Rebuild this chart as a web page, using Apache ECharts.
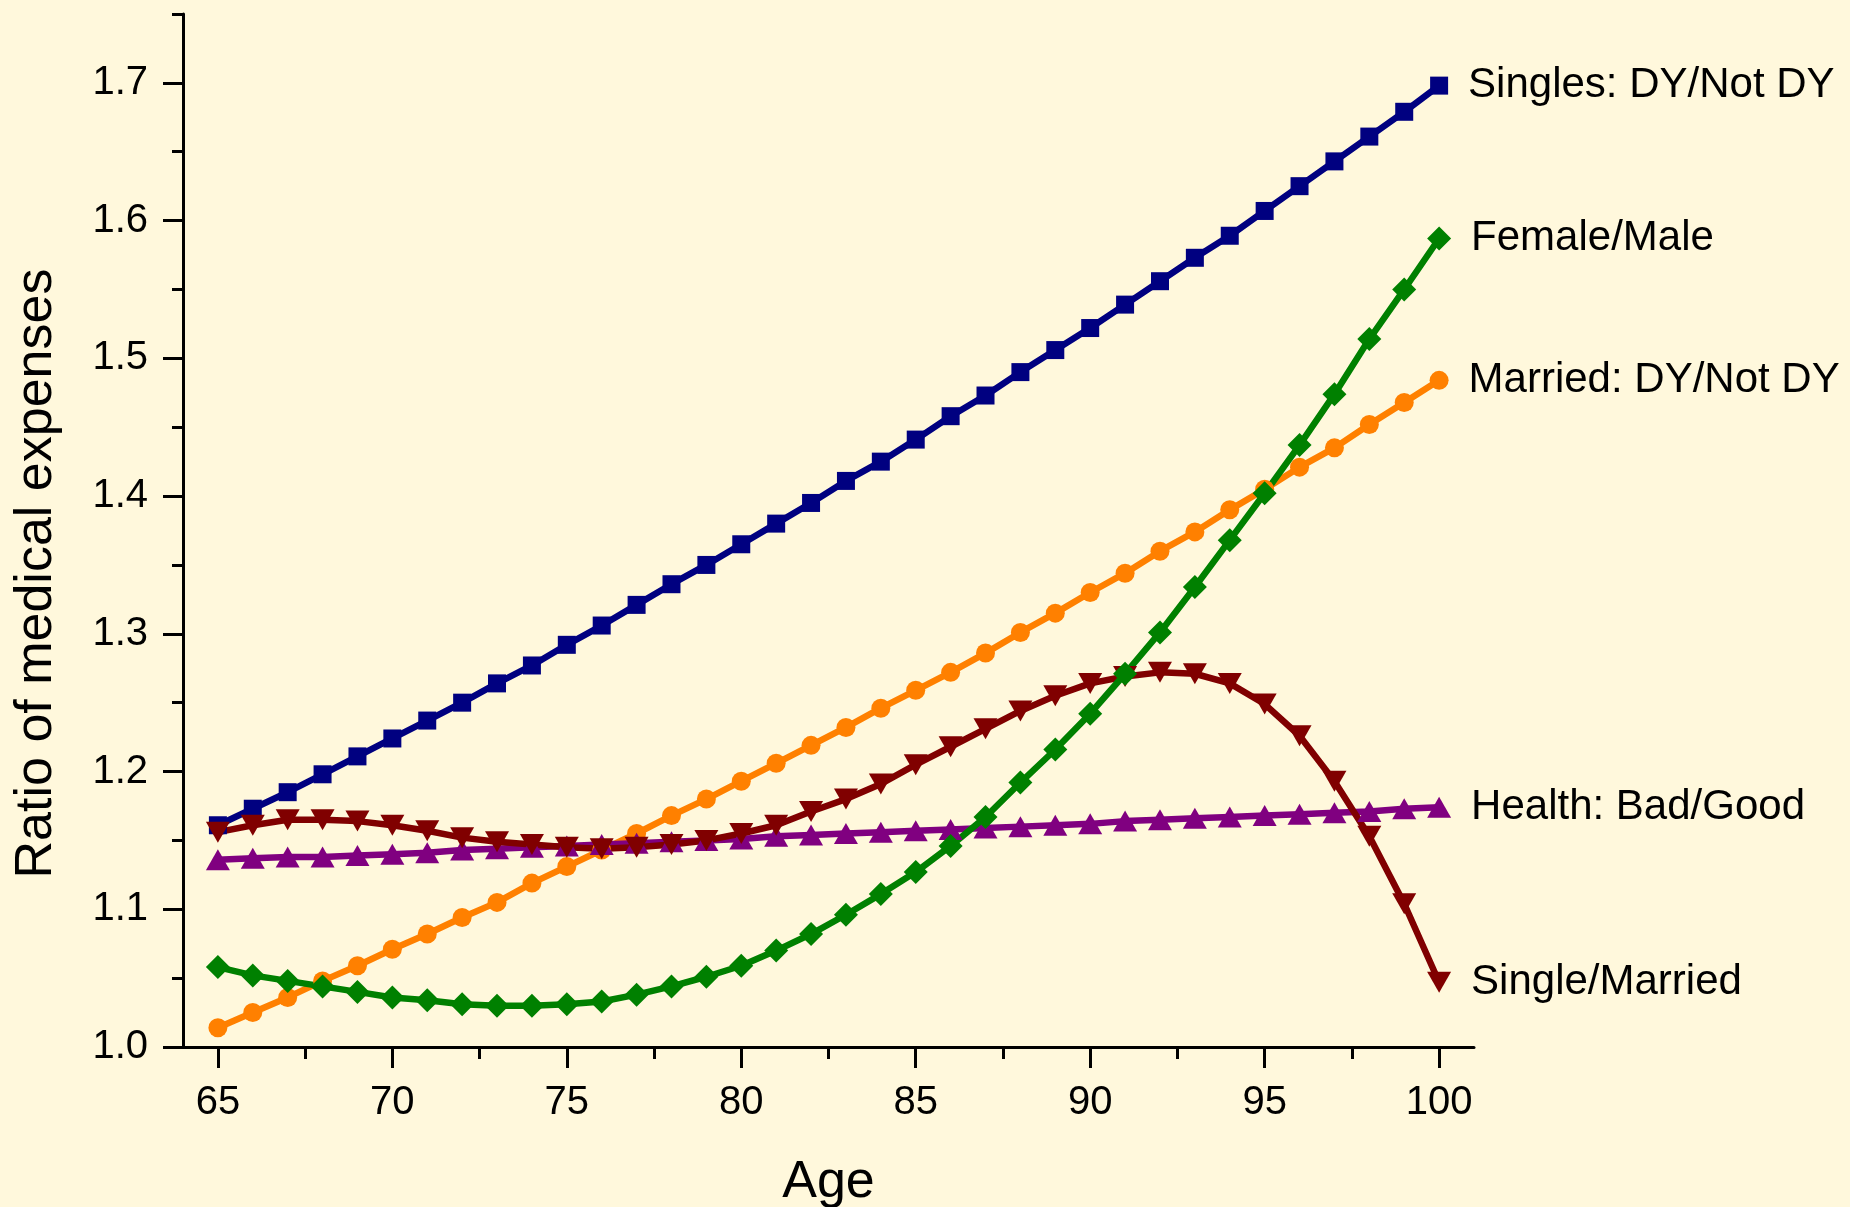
<!DOCTYPE html>
<html>
<head>
<meta charset="utf-8">
<title>Ratio of medical expenses by age</title>
<script src="https://cdn.jsdelivr.net/npm/echarts@6/dist/echarts.min.js"></script>
<style>
  html, body { margin: 0; padding: 0; background: #FFF8DC; }
  #chart { width: 1850px; height: 1207px; }
</style>
</head>
<body>
<div id="chart"></div>
<script>
// Ages on the horizontal axis
const ages = [65, 66, 67, 68, 69, 70, 71, 72, 73, 74, 75, 76, 77, 78, 79, 80, 81, 82,
              83, 84, 85, 86, 87, 88, 89, 90, 91, 92, 93, 94, 95, 96, 97, 98, 99, 100];

// Singles: DY / Not DY
const singlesDY = [1.161, 1.173, 1.185, 1.198, 1.211, 1.224, 1.237, 1.250, 1.264, 1.277,
                   1.292, 1.306, 1.321, 1.336, 1.350, 1.365, 1.380, 1.395, 1.411, 1.425,
                   1.441, 1.458, 1.473, 1.490, 1.506, 1.522, 1.539, 1.556, 1.573, 1.589,
                   1.607, 1.625, 1.643, 1.661, 1.679, 1.698];

// Married: DY / Not DY
const marriedDY = [1.014, 1.025, 1.036, 1.048, 1.059, 1.071, 1.082, 1.094, 1.105, 1.119,
                   1.131, 1.143, 1.155, 1.168, 1.180, 1.193, 1.206, 1.219, 1.232, 1.246,
                   1.259, 1.272, 1.286, 1.301, 1.315, 1.330, 1.344, 1.360, 1.374, 1.390,
                   1.405, 1.421, 1.435, 1.452, 1.468, 1.484];

// Health: Bad / Good
const healthBadGood = [1.136, 1.137, 1.138, 1.138, 1.139, 1.140, 1.141, 1.143, 1.144, 1.145,
                       1.146, 1.147, 1.148, 1.149, 1.150, 1.151, 1.153, 1.154, 1.155, 1.156,
                       1.157, 1.158, 1.159, 1.160, 1.161, 1.162, 1.164, 1.165, 1.166, 1.167,
                       1.168, 1.169, 1.170, 1.171, 1.173, 1.174];

// Single / Married
const singleMarried = [1.156, 1.161, 1.165, 1.165, 1.164, 1.161, 1.157, 1.152, 1.149, 1.147,
                       1.145, 1.144, 1.145, 1.147, 1.150, 1.155, 1.161, 1.171, 1.180, 1.191,
                       1.205, 1.218, 1.231, 1.244, 1.255, 1.264, 1.269, 1.272, 1.271, 1.264,
                       1.249, 1.226, 1.193, 1.153, 1.104, 1.047];

// Female / Male
const femaleMale = [1.058, 1.052, 1.048, 1.044, 1.040, 1.036, 1.034, 1.031, 1.030, 1.030,
                    1.031, 1.033, 1.038, 1.044, 1.051, 1.059, 1.070, 1.082, 1.096, 1.111,
                    1.127, 1.146, 1.167, 1.192, 1.216, 1.242, 1.271, 1.301, 1.334, 1.368,
                    1.402, 1.437, 1.474, 1.514, 1.550, 1.587];

// Axis tick positions and labels
const xMajorTicks = [65, 70, 75, 80, 85, 90, 95, 100];
const xMinorTicks = [67.5, 72.5, 77.5, 82.5, 87.5, 92.5, 97.5];
const yMajorTicks = [1.0, 1.1, 1.2, 1.3, 1.4, 1.5, 1.6, 1.7];
const yMinorTicks = [1.05, 1.15, 1.25, 1.35, 1.45, 1.55, 1.65, 1.75];

const FONT = '"Liberation Sans", Arial, Helvetica, sans-serif';
const INK = '#000000';

function pairs(values) {
  return ages.map((a, i) => [a, values[i]]);
}

// One line series; its name is written next to the last point
function lineSeries(name, values, color, symbol, size, rotate) {
  const data = pairs(values).map((p, i, arr) => {
    if (i !== arr.length - 1) return p;
    return {
      value: p,
      label: {
        show: true,
        position: 'right',
        distance: 20,
        formatter: name,
        color: INK,
        fontFamily: FONT,
        fontSize: 42
      }
    };
  });
  return {
    name: name,
    type: 'line',
    data: data,
    xAxisIndex: 0,
    yAxisIndex: 0,
    symbol: symbol,
    symbolSize: size,
    symbolRotate: rotate || 0,
    showAllSymbol: true,
    smooth: false,
    lineStyle: { color: color, width: 6.5 },
    itemStyle: { color: color, borderWidth: 0 },
    label: { show: false },
    emphasis: { disabled: true },
    z: 2
  };
}

const axisLineStyle = { show: true, lineStyle: { color: INK, width: 3 } };

const chart = echarts.init(document.getElementById('chart'), null, { renderer: 'canvas' });

chart.setOption({
  backgroundColor: '#FFF8DC',
  animation: false,
  grid: {
    left: 183,
    top: 14,
    right: 376,
    bottom: 160,
    outerBoundsMode: 'none',
    containLabel: false
  },
  xAxis: [
    {
      type: 'value',
      min: 64,
      max: 101,
      position: 'bottom',
      name: 'Age',
      nameLocation: 'middle',
      nameGap: 110,
      nameTextStyle: { color: INK, fontFamily: FONT, fontSize: 52 },
      axisLine: axisLineStyle,
      axisTick: {
        show: true, inside: false, length: 21,
        customValues: xMajorTicks,
        lineStyle: { color: INK, width: 3 }
      },
      axisLabel: {
        show: true, margin: 36,
        customValues: xMajorTicks,
        color: INK, fontFamily: FONT, fontSize: 40
      },
      splitLine: { show: false }
    },
    {
      // minor ticks along the bottom edge
      type: 'value',
      min: 64,
      max: 101,
      position: 'bottom',
      offset: 0,
      axisLine: { show: false },
      axisTick: {
        show: true, inside: false, length: 12,
        customValues: xMinorTicks,
        lineStyle: { color: INK, width: 3 }
      },
      axisLabel: { show: false },
      splitLine: { show: false }
    }
  ],
  yAxis: [
    {
      type: 'value',
      min: 1.0,
      max: 1.75,
      position: 'left',
      name: 'Ratio of medical expenses',
      nameLocation: 'middle',
      nameGap: 120,
      nameRotate: 90,
      nameTextStyle: {
        color: INK, fontFamily: FONT, fontSize: 52,
        padding: [0, 86, 0, 0]
      },
      axisLine: axisLineStyle,
      axisTick: {
        show: true, inside: false, length: 20,
        customValues: yMajorTicks,
        lineStyle: { color: INK, width: 3 }
      },
      axisLabel: {
        show: true, margin: 35,
        customValues: yMajorTicks,
        formatter: v => v.toFixed(1),
        color: INK, fontFamily: FONT, fontSize: 40
      },
      splitLine: { show: false }
    },
    {
      // minor ticks along the left edge
      type: 'value',
      min: 1.0,
      max: 1.75,
      position: 'left',
      offset: 0,
      axisLine: { show: false },
      axisTick: {
        show: true, inside: false, length: 11,
        customValues: yMinorTicks,
        lineStyle: { color: INK, width: 3 }
      },
      axisLabel: { show: false },
      splitLine: { show: false }
    }
  ],
  series: [
    lineSeries('Singles: DY/Not DY', singlesDY, '#000080', 'rect', 18),
    lineSeries('Married: DY/Not DY', marriedDY, '#FF8000', 'circle', 19),
    lineSeries('Health: Bad/Good', healthBadGood, '#800080', 'triangle', [24, 21]),
    lineSeries('Single/Married', singleMarried, '#800000', 'triangle', [24, 21], 180),
    lineSeries('Female/Male', femaleMale, '#008000', 'diamond', 24)
  ]
});
</script>
</body>
</html>
